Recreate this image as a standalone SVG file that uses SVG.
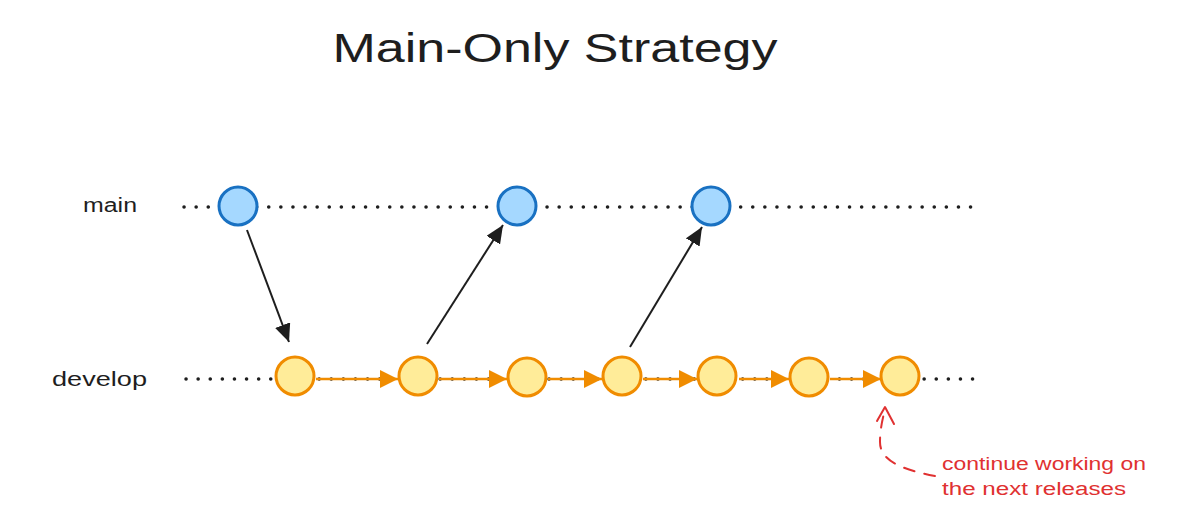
<svg xmlns="http://www.w3.org/2000/svg" width="1193" height="522" viewBox="0 0 1193 522">
<style>
.bg{fill:#ffffff}
.title{font-family:"Liberation Sans",Arial,sans-serif;font-size:40px;fill:#1e1e1e}
.lbl{font-family:"Liberation Sans",Arial,sans-serif;font-size:20px;fill:#1e1e1e}
.note{font-family:"Liberation Sans",Arial,sans-serif;font-size:18px;fill:#e03131}
.dots{stroke:#1e1e1e;stroke-width:3.5;stroke-linecap:round;stroke-dasharray:0.1 12;fill:none}
.blue{fill:#a5d8ff;stroke:#1971c2;stroke-width:3}
.yel{fill:#ffec99;stroke:#f08c00;stroke-width:3}
.blk{stroke:#1e1e1e;stroke-width:2;fill:none}
.org{stroke:#f08c00;stroke-width:2.5;fill:none}
.red{stroke:#e03131;stroke-width:2;fill:none;stroke-dasharray:11 10;stroke-linecap:round}
.redhead{stroke:#e03131;stroke-width:2;fill:none;stroke-linecap:round;stroke-linejoin:round}
</style>
<defs>
<marker id="ab" markerUnits="userSpaceOnUse" markerWidth="20" markerHeight="16" refX="18" refY="8" orient="auto">
<path d="M0,0 L18,8 L0,16 Z" fill="#1e1e1e"/>
</marker>
<marker id="ao" markerUnits="userSpaceOnUse" markerWidth="20" markerHeight="18" refX="18" refY="9" orient="auto">
<path d="M0,0 L18,9 L0,18 Z" fill="#f08c00"/>
</marker>
</defs>
<rect class="bg" x="0" y="0" width="1193" height="522"/>
<text class="title" x="555" y="62" text-anchor="middle" textLength="445" lengthAdjust="spacingAndGlyphs">Main-Only Strategy</text>
<text class="lbl" x="83" y="212" textLength="54" lengthAdjust="spacingAndGlyphs">main</text>
<text class="lbl" x="52" y="386" textLength="95" lengthAdjust="spacingAndGlyphs">develop</text>
<g id="lanes">
<line class="dots" x1="184" y1="207" x2="976" y2="207"/>
<line class="dots" x1="186" y1="379" x2="976" y2="379"/>
</g>
<g id="connectors">
<line class="blk" x1="247" y1="230" x2="289" y2="342" marker-end="url(#ab)"/>
<line class="blk" x1="427" y1="344" x2="503" y2="225" marker-end="url(#ab)"/>
<line class="blk" x1="630" y1="347" x2="702" y2="227" marker-end="url(#ab)"/>
<line class="org" x1="316" y1="379" x2="398" y2="379" marker-end="url(#ao)"/>
<line class="org" x1="439" y1="379" x2="507" y2="379" marker-end="url(#ao)"/>
<line class="org" x1="548" y1="379" x2="602" y2="379" marker-end="url(#ao)"/>
<line class="org" x1="643" y1="379" x2="697" y2="379" marker-end="url(#ao)"/>
<line class="org" x1="739" y1="379" x2="789" y2="379" marker-end="url(#ao)"/>
<line class="org" x1="830" y1="379" x2="881" y2="379" marker-end="url(#ao)"/>
<path class="red" d="M935,476 C905,470 880,462 880,442 C880,428 883,418 885,409"/>
<path class="redhead" d="M877,421 L885,407 L894,424"/>
</g>
<g id="main-1"><circle class="blue" cx="238" cy="206" r="19"/></g>
<g id="main-2"><circle class="blue" cx="517" cy="206" r="19"/></g>
<g id="main-3"><circle class="blue" cx="711" cy="206" r="19"/></g>
<g id="dev-1"><circle class="yel" cx="295" cy="376" r="19"/></g>
<g id="dev-2"><circle class="yel" cx="418" cy="376" r="19"/></g>
<g id="dev-3"><circle class="yel" cx="527" cy="377" r="19"/></g>
<g id="dev-4"><circle class="yel" cx="622" cy="376" r="19"/></g>
<g id="dev-5"><circle class="yel" cx="717" cy="376" r="19"/></g>
<g id="dev-6"><circle class="yel" cx="809" cy="377" r="19"/></g>
<g id="dev-7"><circle class="yel" cx="900" cy="376" r="19"/></g>
<g id="note">
<text class="note" x="942" y="470" textLength="204" lengthAdjust="spacingAndGlyphs">continue working on</text>
<text class="note" x="942" y="495" textLength="184" lengthAdjust="spacingAndGlyphs">the next releases</text>
</g>
</svg>
